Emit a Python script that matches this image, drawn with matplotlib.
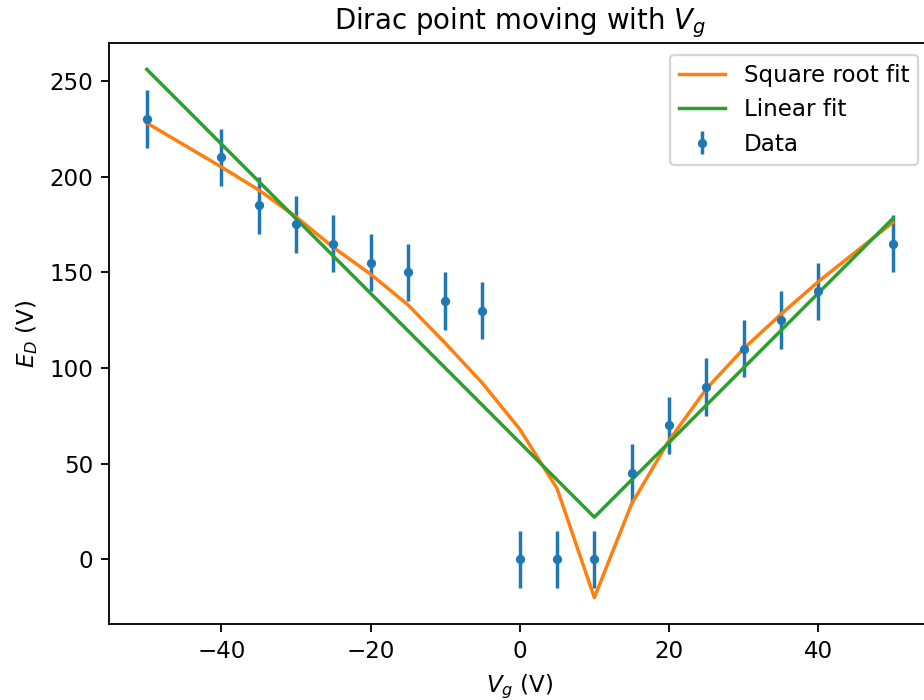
import matplotlib
matplotlib.use("Agg")
import matplotlib.pyplot as plt
import numpy as np

# gate voltage sweep and measured Dirac point energy
vg = np.array([-50, -40, -35, -30, -25, -20, -15, -10, -5, 0, 5, 10, 15, 20, 25, 30, 35, 40, 50])
ed = np.array([230, 210, 185, 175, 165, 155, 150, 135, 130, 0, 0, 0, 45, 70, 90, 110, 125, 140, 165])
ed_err = np.full(len(vg), 15)

# fitted curves evaluated at the same gate voltages
sqrt_fit = np.array([228, 205, 193, 179, 163, 149, 133, 113, 92, 68, 37, -20, 29, 62, 89, 110, 128, 145, 176])
lin_fit = np.array([256, 217, 197.5, 178, 158.5, 139, 119.5, 100, 80.5, 61, 41.5, 22, 41.5, 61, 80.5, 100, 119.5, 139, 178])

dpi = 166
fig = plt.figure(figsize=(924 / dpi, 700 / dpi), dpi=dpi)
ax = fig.add_axes([0.1185, 0.1086, 0.888, 0.83])

ax.errorbar(vg, ed, yerr=ed_err, fmt='.', label='Data')
ax.plot(vg, sqrt_fit, label='Square root fit')
ax.plot(vg, lin_fit, label='Linear fit')

ax.set_title('Dirac point moving with $V_g$')
ax.set_xlabel('$V_g$ (V)')
ax.set_ylabel('$E_D$ (V)')
ax.legend(loc='upper right')

fig.savefig('out.png', dpi=dpi)
